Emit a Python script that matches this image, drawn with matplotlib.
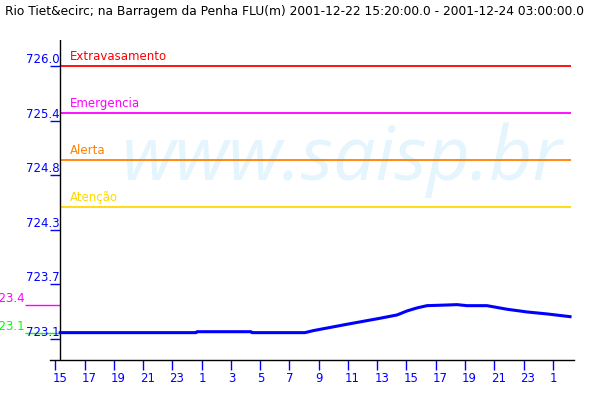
import matplotlib
matplotlib.use("Agg")
import matplotlib.pyplot as plt
import matplotlib.transforms as mtransforms

# data: hours since 2001-12-22 00:00, water level (m)
hours = [15.33, 24.61, 24.68, 28.37, 28.44, 31.72, 32.06, 32.61, 34.93, 37.19,
         38.35, 39.04, 39.72, 40.40, 41.77, 42.45, 43.14, 44.50, 45.87, 47.24,
         48.61, 50.18]
levels = [723.164, 723.164, 723.174, 723.174, 723.164, 723.164, 723.164, 723.185,
          723.253, 723.317, 723.352, 723.395, 723.427, 723.451, 723.458, 723.462,
          723.451, 723.451, 723.413, 723.384, 723.363, 723.334]

limit_names = ["Extravasamento", "Emergencia", "Alerta", "Atenção"]
limit_values = [726.0, 725.5, 725.0, 724.5]
limit_colors = ["#ff0000", "#ff00ff", "#ff8000", "#ffd800"]

ytick_values = [723.1, 723.68, 724.26, 724.84, 725.42, 726.0]
ytick_labels = ["723.1", "723.7", "724.3", "724.8", "725.4", "726.0"]
xtick_hours = list(range(15, 50, 2))
xtick_labels = [str(h % 24) for h in xtick_hours]

title = ("Rio Tiet&ecirc; na Barragem da Penha FLU(m) "
         "2001-12-22 15:20:00.0 - 2001-12-24 03:00:00.0")

blue = "#0000ff"
fs = 8.5

fig = plt.figure(figsize=(6, 4), dpi=100)
ax = fig.add_axes([50 / 600, 40 / 400, 523.7 / 600, 320 / 400])
ax.set_xlim(14.63, 50.43)
ax.set_ylim(722.873, 726.277)

for s in ["top", "right", "left"]:
    ax.spines[s].set_visible(False)
ax.spines["bottom"].set_linewidth(1)
ax.axvline(15.333, color="black", lw=1, zorder=3)

# watermark
ax.text(19.55, 724.788, "www.saisp.br", color="#e4f5fd", fontsize=54,
        fontstyle="italic", family=["Open Sans", "DejaVu Sans"],
        ha="left", va="baseline", zorder=0, clip_on=True)

# limit lines
for name, val, col in zip(limit_names, limit_values, limit_colors):
    ax.hlines(val, 15.333, 50.24, color=col, lw=1.3, zorder=2)
    ax.text(16.0, val + 0.03, name, color=col, fontsize=fs,
            ha="left", va="bottom")

# series
ax.plot(hours, levels, color=blue, lw=2.2, zorder=4)

# y ticks (short marks between x=50 and the axis line)
ax.set_yticks(ytick_values)
ax.tick_params(axis="y", direction="in", length=7.2, width=1, color=blue,
               labelleft=False)
ytr = mtransforms.blended_transform_factory(ax.transAxes, ax.transData)
for v, lab in zip(ytick_values, ytick_labels):
    ax.text(10 / 523.7, v, lab, color=blue, fontsize=fs, ha="right",
            va="bottom", transform=ytr)

# x ticks
ax.set_xticks(xtick_hours)
ax.set_xticklabels(xtick_labels, ha="left")
ax.tick_params(axis="x", direction="out", length=7, width=1, color=blue,
               labelcolor=blue, labelsize=fs, pad=2)
shift = mtransforms.ScaledTranslation(-3 / 100, 0, fig.dpi_scale_trans)
for lab in ax.get_xticklabels():
    lab.set_transform(lab.get_transform() + shift)

# min / max markers
lo, hi = min(levels), max(levels)
for v, col in [(hi, "#ff00ff"), (lo, "#00ff00")]:
    ax.hlines(v, -25 / 523.7, 10 / 523.7, color=col, lw=1, transform=ytr,
              clip_on=False)
    ax.text(-25 / 523.7, v, "%.1f" % (int(v * 10) / 10), color=col,
            fontsize=fs, ha="right", va="bottom", transform=ytr,
            clip_on=False)

fig.text(5 / 600, 1 - 12 / 400, title, fontsize=8.8, va="center", ha="left")

fig.savefig("out.png", dpi=100)
